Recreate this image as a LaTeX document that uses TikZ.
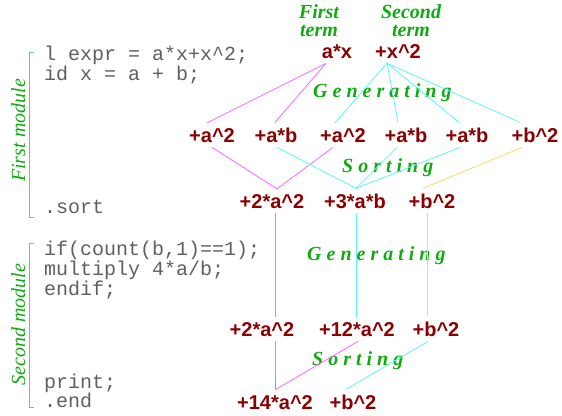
\documentclass[tikz,border=0pt]{standalone}
\usepackage{fontspec}
\newfontfamily\termfont{Liberation Sans}
\newfontfamily\codefont{Liberation Mono}
\newfontfamily\notefont{Liberation Serif}
\definecolor{termred}{RGB}{139,0,0}
\definecolor{codegray}{RGB}{95,95,95}
\definecolor{notegreen}{RGB}{17,170,17}
\definecolor{bracketgreen}{RGB}{110,200,110}
\definecolor{linemag}{RGB}{255,102,255}
\definecolor{linecyan}{RGB}{90,245,255}
\definecolor{lineyel}{RGB}{255,215,100}
\newcommand{\crt}{\textasciicircum}

\begin{document}
\begin{tikzpicture}[
  x=1pt, y=-1pt,
  term/.style={font=\termfont\bfseries\fontsize{20}{20}\selectfont, text=termred, inner xsep=0pt, inner ysep=5pt, anchor=base},
  code/.style={font=\codefont\fontsize{20}{20}\selectfont, text=codegray, inner sep=0pt, anchor=base west},
  phase/.style={font=\notefont\bfseries\itshape\fontsize{20}{20}\selectfont, text=notegreen, inner sep=0pt, anchor=base west},
  termnote/.style={font=\notefont\bfseries\itshape\fontsize{20}{18}\selectfont, text=notegreen, inner sep=0pt, align=center, anchor=north},
  modlabel/.style={font=\notefont\itshape\fontsize{20}{20}\selectfont, text=notegreen, inner sep=0pt, rotate=90, anchor=base},
  bracket/.style={draw=bracketgreen, line width=0.8pt},
  magline/.style={draw=linemag, line width=0.8pt},
  cyanline/.style={draw=linecyan, line width=0.8pt},
  yelline/.style={draw=lineyel, line width=0.8pt}
]
\useasboundingbox (0,0) rectangle (562,415);

% source code, left column
\node[code] (l1) at (44,60) {l expr = a*x+x\crt2;};
\node[code] (l2) at (44,80) {id x = a + b;};
\node[code] (l3) at (44,213) {.sort};
\node[code] (l4) at (44,255) {if(count(b,1)==1);};
\node[code] (l5) at (44,275) {multiply 4*a/b;};
\node[code] (l6) at (44,295) {endif;};
\node[code] (l7) at (44,388) {print;};
\node[code] (l8) at (44,407) {.end};

% module brackets
\draw[bracket] (34,52) -- (29,52) -- (29,217) -- (34,217);
\draw[bracket] (34,243) -- (29,243) -- (29,407) -- (34,407);
\node[modlabel] (mod1) at (25,130.5) {First module};
\node[modlabel] (mod2) at (25,324.5) {Second module};

% terms
\node[termnote] (first) at (319,4) {First\\term};
\node[termnote] (second) at (411,4) {Second\\term};
\node[term] (ax) at (337,58) {a*x};
\node[term] (x2) at (398,58) {+x\crt2};

\node[term] (a1) at (212,142) {+a\crt2};
\node[term] (a2) at (276,142) {+a*b};
\node[term] (a3) at (343,142) {+a\crt2};
\node[term] (a4) at (406,142) {+a*b};
\node[term] (a5) at (467,142) {+a*b};
\node[term] (a6) at (535,142) {+b\crt2};

\node[term] (b1) at (272,208) {+2*a\crt2};
\node[term] (b2) at (355,208) {+3*a*b};
\node[term] (b3) at (432,208) {+b\crt2};

\node[term] (c1) at (262,336) {+2*a\crt2};
\node[term] (c2) at (357,336) {+12*a\crt2};
\node[term] (c3) at (436,336) {+b\crt2};

\node[term] (d1) at (275,409) {+14*a\crt2};
\node[term] (d2) at (353,409) {+b\crt2};

% phases
\node[phase] (gen1) at (313,97) {G e n e r a t i n g};
\node[phase] (sort1) at (342,172) {S o r t i n g};
\node[phase] (gen2) at (307,260) {G e n e r a t i n g};
\node[phase] (sort2) at (312,365) {S o r t i n g};

% generating, first module
\draw[magline] ([xshift=-11pt]ax.south) -- ([xshift=-5pt]a1.north);
\draw[magline] ([xshift=-11pt]ax.south) -- ([xshift=-1pt]a2.north);
\draw[cyanline] ([xshift=-11pt]x2.south) -- ([xshift=-8pt]a3.north);
\draw[cyanline] ([xshift=-11pt]x2.south) -- ([xshift=-8pt]a4.north);
\draw[cyanline] ([xshift=-11pt]x2.south) -- ([xshift=-8pt]a5.north);
\draw[cyanline] ([xshift=-11pt]x2.south) -- ([xshift=-15pt]a6.north);

% sorting, first module
\draw[magline] (a1.south) -- ([xshift=5pt]b1.north);
\draw[magline] ([xshift=-10pt]a3.south) -- ([xshift=5pt]b1.north);
\draw[cyanline] ([xshift=1pt]a2.south) -- ([xshift=1pt]b2.north);
\draw[cyanline] ([xshift=-9pt]a4.south) -- ([xshift=1pt]b2.north);
\draw[cyanline] ([xshift=-7pt]a5.south) -- ([xshift=1pt]b2.north);
\draw[yelline] ([xshift=-13pt]a6.south) -- ([xshift=-9pt]b3.north);

% generating, second module
\draw[magline] ([xshift=3pt]b1.south) -- ([xshift=13pt]c1.north);
\draw[cyanline] ([xshift=1pt]b2.south) -- ([xshift=-1pt]c2.north);
\draw[yelline] ([xshift=-5pt]b3.south) -- ([xshift=-9pt]c3.north);

% sorting, second module
\draw[magline] ([xshift=13pt]c1.south) -- (d1.north);
\draw[magline] ([xshift=1pt]c2.south) -- (d1.north);
\draw[cyanline] ([xshift=-8pt]c3.south) -- ([xshift=-7pt]d2.north);

\end{tikzpicture}
\end{document}
